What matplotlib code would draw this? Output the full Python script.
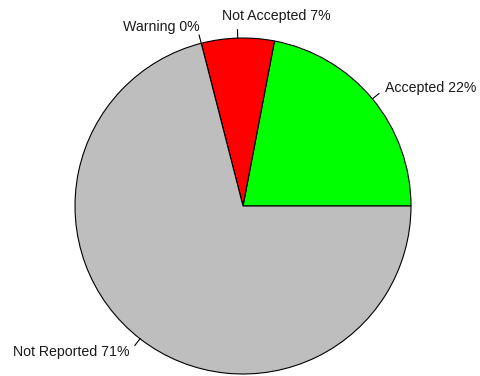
import numpy as np
import matplotlib
matplotlib.use("Agg")
import matplotlib.pyplot as plt

plt.rcParams['font.family'] = ['Liberation Sans', 'DejaVu Sans']

labels = ["Accepted", "Not Accepted", "Warning", "Not Reported"]
values = [22, 7, 0, 71]
colors = ["#00FF00", "#FF0000", "#FFFF00", "#BEBEBE"]

W, H = 480, 376
fig = plt.figure(figsize=(W / 100, H / 100), dpi=100)
ax = fig.add_axes([0, 0, 1, 1])

cx, cy, r = 243, 170, 168
ax.pie(values, colors=colors, startangle=0, counterclock=True, center=(cx, cy), radius=r,
       wedgeprops=dict(edgecolor="black", linewidth=0.8), frame=True)
ax.set_xlim(0, W); ax.set_ylim(0, H); ax.set_aspect("equal"); ax.axis("off")

# label nudges (pixels) so the two top labels don't collide
nudge = {"Not Accepted": (-15, 5, "left"), "Warning": (3, 0, "right")}

tot = sum(values); start = 0.0
for lab, v in zip(labels, values):
    mid = np.deg2rad(start + 360 * v / tot / 2); start += 360 * v / tot
    c, s = np.cos(mid), np.sin(mid)
    ax.plot([cx + r * c, cx + 1.05 * r * c], [cy + r * s, cy + 1.05 * r * s], color="black", lw=0.8)
    tx, ty = cx + 1.1 * r * c, cy + 1.1 * r * s
    ha = "left" if c > 0 else "right"
    if lab in nudge:
        dx, dy, ha = nudge[lab]
        tx = (cx + 1.05 * r * c + dx) if ha == "left" else tx + dx
        ty += dy
    ax.text(tx, ty, f"{lab} {round(100 * v / tot)}%", ha=ha, va="center",
            fontsize=10.2, color="#1a1a1a")

fig.savefig("out.png", dpi=100)
